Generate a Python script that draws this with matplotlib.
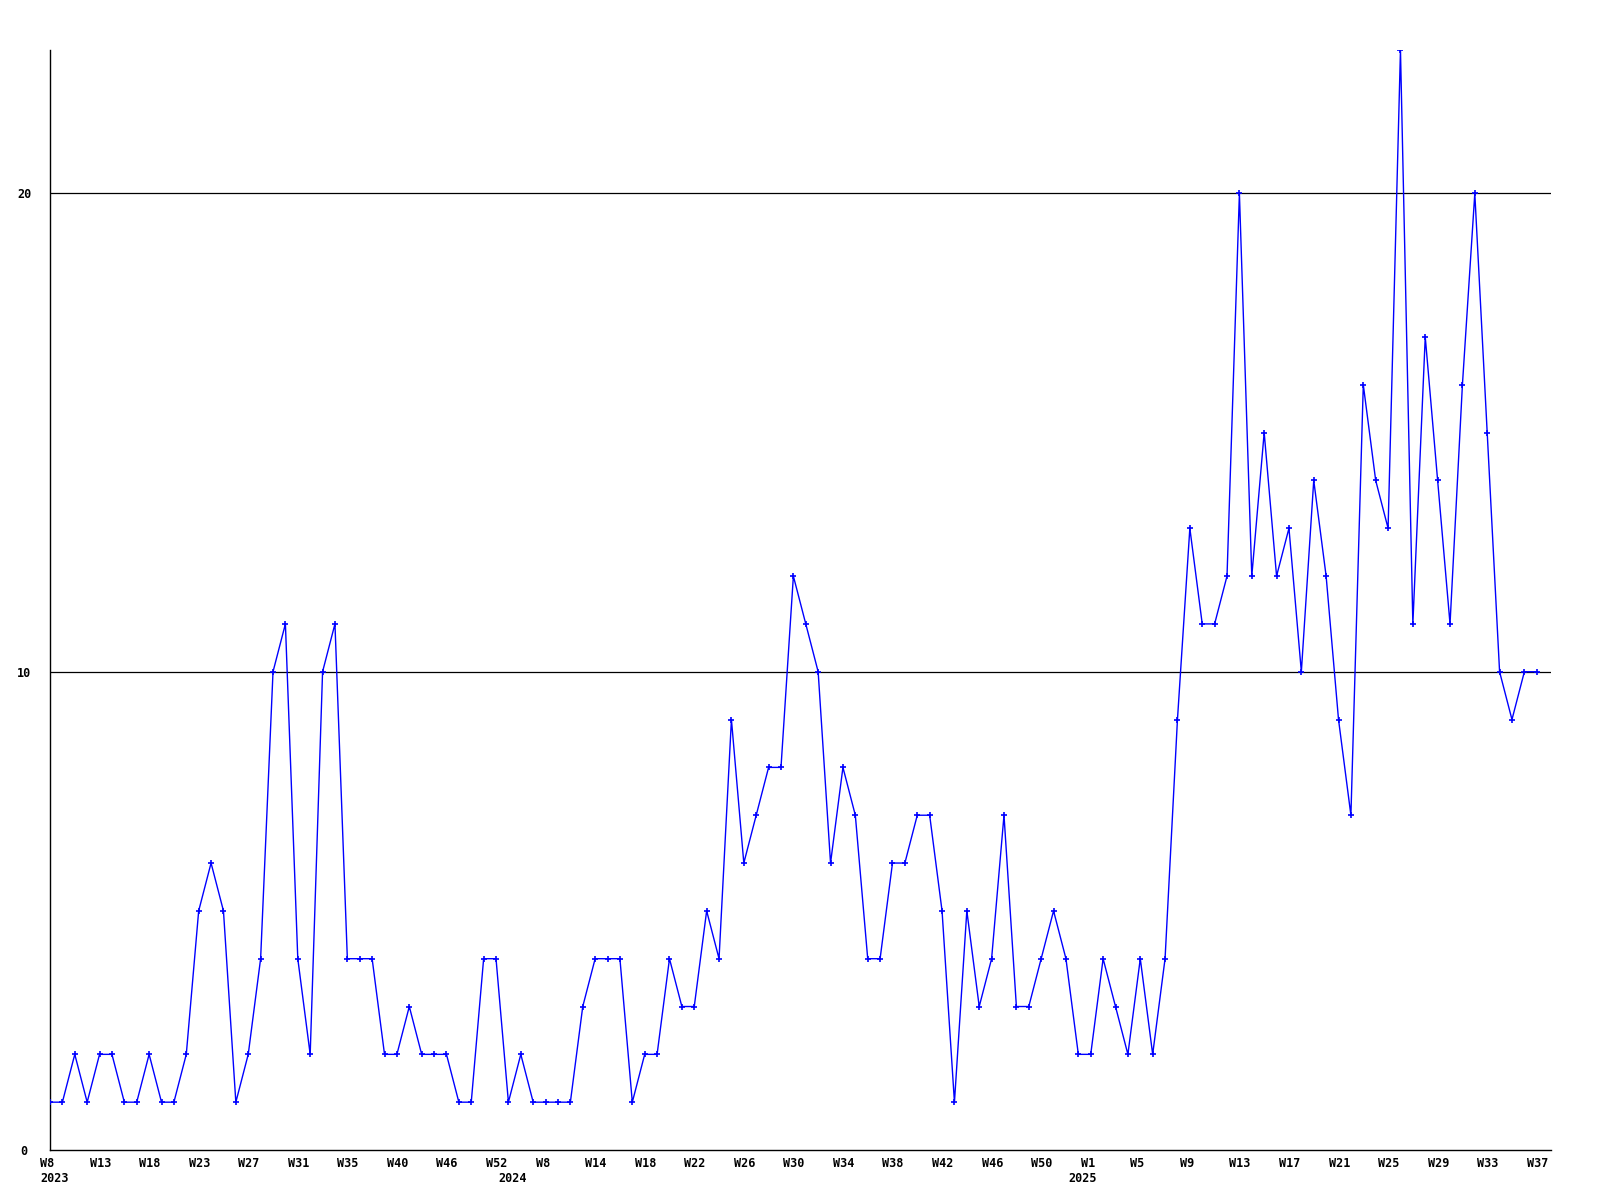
import matplotlib
matplotlib.use("Agg")
import matplotlib.pyplot as plt
import matplotlib.transforms as mtransforms
import numpy as np

# weekly counts, 2023 W8 .. 2025 W37
values = [1, 1, 2, 1, 2, 2, 1, 1, 2, 1, 1, 2, 5, 6, 5, 1, 2, 4, 10, 11,
          4, 2, 10, 11, 4, 4, 4, 2, 2, 3, 2, 2, 2, 1, 1, 4, 4, 1, 2, 1,
          1, 1, 1, 3, 4, 4, 4, 1, 2, 2, 4, 3, 3, 5, 4, 9, 6, 7, 8, 8,
          12, 11, 10, 6, 8, 7, 4, 4, 6, 6, 7, 7, 5, 1, 5, 3, 4, 7, 3, 3,
          4, 5, 4, 2, 2, 4, 3, 2, 4, 2, 4, 9, 13, 11, 11, 12, 20, 12, 15, 12,
          13, 10, 14, 12, 9, 7, 16, 14, 13, 23, 11, 17, 14, 11, 16, 20, 15, 10, 9, 10,
          10]

week_labels = ["W8", "W13", "W18", "W23", "W27", "W31", "W35", "W40", "W46", "W52",
               "W8", "W14", "W18", "W22", "W26", "W30", "W34", "W38", "W42", "W46", "W50",
               "W1", "W5", "W9", "W13", "W17", "W21", "W25", "W29", "W33", "W37"]
year_labels = ["2023", "2024", "2025"]
year_start = [0, 37, 83]   # index of first week in each year
y_ticks = [0, 10, 20]

font = dict(family="DejaVu Sans Mono", weight="bold", size=8.5, color="black")

fig = plt.figure(figsize=(16, 12), dpi=100)
ax = fig.add_axes([50 / 1600, 50 / 1200, 1501 / 1600, 1100 / 1200])

x = np.arange(len(values))
ax.plot(x, values, color="#0000ff", lw=1.0, marker="+", ms=4, mew=1.2, zorder=3)

ax.set_xlim(0, 121.15)
ax.set_ylim(0, 23)
for yv in y_ticks[1:]:
    ax.axhline(yv, color="black", lw=0.9, zorder=1)

for s in ["top", "right"]:
    ax.spines[s].set_visible(False)
for s in ["left", "bottom"]:
    ax.spines[s].set_linewidth(1.0)
ax.set_xticks([])
ax.set_yticks([])

# axis labels drawn as text, offset in pixels
ytr = mtransforms.offset_copy(ax.get_yaxis_transform(), fig=fig, x=-26, y=0, units="dots")
for yv in y_ticks:
    ax.text(0, yv, str(yv), transform=ytr, ha="center", va="center_baseline", **font)

wtr = mtransforms.offset_copy(ax.get_xaxis_transform(), fig=fig, x=-10, y=-12, units="dots")
for i, lab in zip(x[::4], week_labels):
    ax.text(i, 0, lab, transform=wtr, ha="left", va="center_baseline", clip_on=False, **font)

ytr2 = mtransforms.offset_copy(ax.get_xaxis_transform(), fig=fig, x=-10, y=-27, units="dots")
for i, lab in zip(year_start, year_labels):
    ax.text(i, 0, lab, transform=ytr2, ha="left", va="center_baseline", clip_on=False, **font)

fig.savefig("out.png", dpi=100)
